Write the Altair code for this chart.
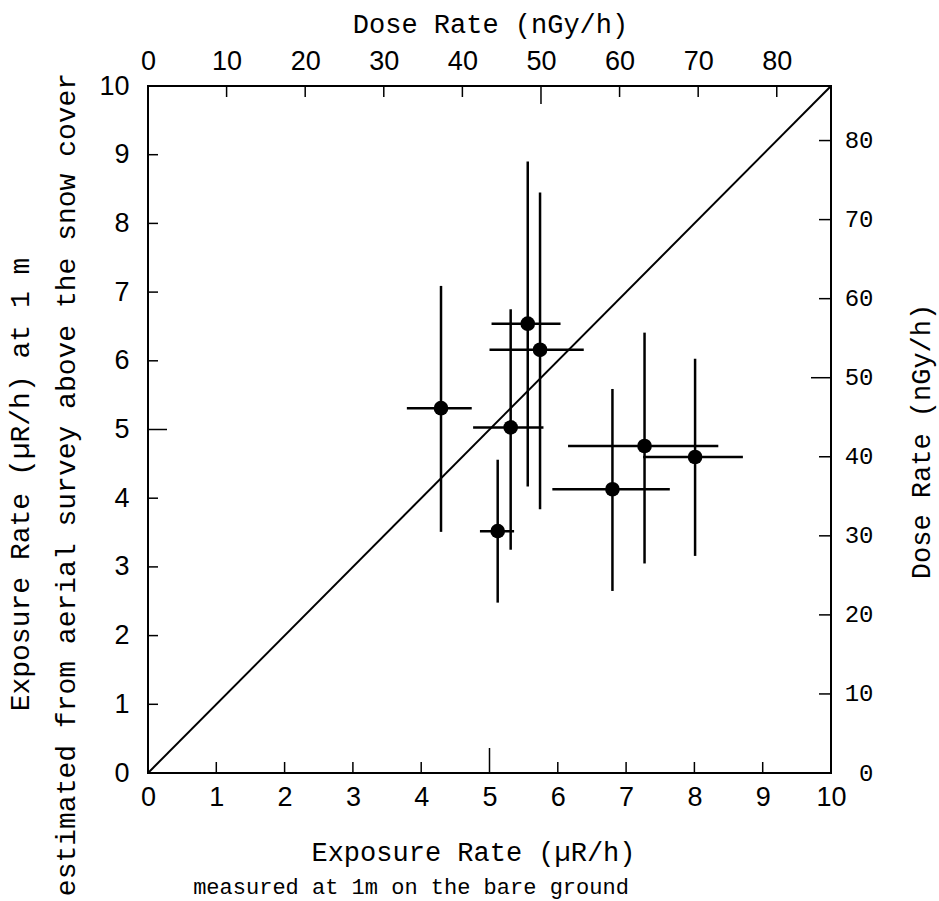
import altair as alt
import pandas as pd

# ---- data ----
# exposure rate measured at 1 m on bare ground (uR/h): centre and horizontal error bar
meas_x = [4.29, 5.56, 5.74, 5.31, 5.12, 6.80, 7.27, 8.01]
meas_lo = [3.79, 5.03, 5.00, 4.76, 4.86, 5.92, 6.15, 7.25]
meas_hi = [4.74, 6.04, 6.38, 5.79, 5.36, 7.64, 8.35, 8.71]
# exposure rate estimated from aerial survey (uR/h): centre and vertical error bar
aer_y = [5.31, 6.54, 6.16, 5.03, 3.52, 4.13, 4.76, 4.60]
aer_lo = [3.51, 4.17, 3.84, 3.25, 2.48, 2.65, 3.05, 3.16]
aer_hi = [7.09, 8.90, 8.45, 6.75, 4.56, 5.59, 6.41, 6.03]

# 1:1 line
line_x = [0, 10]
line_y = [0, 10]

# axis ticks
exp_ticks = list(range(0, 11))
dose_ticks = list(range(0, 81, 10))
exp_max = 10
dose_max = 86.9

W, H = 683, 687
TITLE_FONT = "Liberation Mono"
LABEL_FONT = "'Liberation Sans Narrow', 'Liberation Sans', sans-serif"

df = pd.DataFrame({"x": meas_x, "xlo": meas_lo, "xhi": meas_hi,
                   "y": aer_y, "ylo": aer_lo, "yhi": aer_hi})
df_line = pd.DataFrame({"x": line_x, "y": line_y})

xs = alt.Scale(domain=[0, exp_max], nice=False, zero=False)
ys = alt.Scale(domain=[0, exp_max], nice=False, zero=False)
ds = alt.Scale(domain=[0, dose_max], nice=False, zero=False)

x_axis = alt.Axis(values=exp_ticks, ticks=False, domain=False, grid=False,
                  labelFont=LABEL_FONT, labelFontSize=27, labelPadding=11,
                  labelColor="black", labelFlush=False, format="d",
                  title="Exposure Rate (µR/h)", titleFont=TITLE_FONT,
                  titleFontSize=27, titleFontWeight="normal", titleColor="black",
                  titleX=325, titleY=79, titleBaseline="middle")
y_axis = alt.Axis(values=exp_ticks, ticks=False, domain=False, grid=False,
                  labelFont=LABEL_FONT, labelFontSize=27, labelPadding=19,
                  labelColor="black", labelFlush=False, format="d",
                  title=["Exposure Rate (µR/h) at 1 m",
                         "estimated from aerial survey above the snow cover"],
                  titleFont=TITLE_FONT, titleFontSize=28, titleFontWeight="normal",
                  titleColor="black", titleAngle=270, titleAlign="center",
                  titleBaseline="middle", titleLineHeight=46,
                  titleX=-128, titleY=398)
top_axis = alt.Axis(orient="top", values=dose_ticks, ticks=False, domain=False,
                    grid=False, labelFont=LABEL_FONT, labelFontSize=27,
                    labelPadding=11, labelColor="black", labelFlush=False, format="d",
                    title="Dose Rate (nGy/h)", titleFont=TITLE_FONT, titleFontSize=27,
                    titleFontWeight="normal", titleColor="black",
                    titleX=342, titleY=-62, titleBaseline="middle")
right_axis = alt.Axis(orient="right", values=dose_ticks, ticks=False, domain=False,
                      grid=False, labelFont=TITLE_FONT, labelFontSize=24,
                      labelAlign="right", labelPadding=42, labelColor="black",
                      labelFlush=False, format="d",
                      title="Dose Rate (nGy/h)", titleFont=TITLE_FONT, titleFontSize=27,
                      titleFontWeight="normal", titleColor="black", titleAngle=270,
                      titleAlign="center", titleBaseline="middle",
                      titleX=90, titleY=355)

base = alt.Chart(df)

diag = alt.Chart(df_line).mark_line(color="black", strokeWidth=2).encode(
    x=alt.X("x:Q", scale=xs, axis=x_axis),
    y=alt.Y("y:Q", scale=ys, axis=y_axis),
)
hbars = base.mark_rule(color="black", strokeWidth=2.5).encode(
    x=alt.X("xlo:Q", scale=xs, axis=x_axis), x2="xhi:Q",
    y=alt.Y("y:Q", scale=ys, axis=y_axis),
)
vbars = base.mark_rule(color="black", strokeWidth=2.5).encode(
    x=alt.X("x:Q", scale=xs, axis=x_axis),
    y=alt.Y("ylo:Q", scale=ys, axis=y_axis), y2="yhi:Q",
)
points = base.mark_circle(color="black", opacity=1, size=215).encode(
    x=alt.X("x:Q", scale=xs, axis=x_axis),
    y=alt.Y("y:Q", scale=ys, axis=y_axis),
)

inner_ticks = [t for t in exp_ticks if 0 < t < exp_max]
short_exp = pd.DataFrame({"v": [t for t in inner_ticks if t != 5]})
long_exp = pd.DataFrame({"v": [t for t in inner_ticks if t == 5]})

bot_short = alt.Chart(short_exp).mark_rule(color="black", strokeWidth=1.5).encode(
    x=alt.X("v:Q", scale=xs, axis=x_axis), y=alt.value(H), y2=alt.value(H - 11))
bot_long = alt.Chart(long_exp).mark_rule(color="black", strokeWidth=1.5).encode(
    x=alt.X("v:Q", scale=xs, axis=x_axis), y=alt.value(H), y2=alt.value(H - 25))
left_short = alt.Chart(short_exp).mark_rule(color="black", strokeWidth=1.5).encode(
    y=alt.Y("v:Q", scale=ys, axis=y_axis), x=alt.value(0), x2=alt.value(10))
left_long = alt.Chart(long_exp).mark_rule(color="black", strokeWidth=1.5).encode(
    y=alt.Y("v:Q", scale=ys, axis=y_axis), x=alt.value(0), x2=alt.value(19))

subtitle = alt.Chart(pd.DataFrame({"a": [0]})).mark_text(
    font=TITLE_FONT, fontSize=22, align="center", baseline="middle", color="black"
).encode(x=alt.value(263), y=alt.value(801),
         text=alt.value("measured at 1m on the bare ground"))

main = alt.layer(diag, hbars, vbars, points, bot_short, bot_long,
                 left_short, left_long, subtitle)

inner_dose = [t for t in dose_ticks if 0 < t]
short_dose = pd.DataFrame({"d": [t for t in inner_dose if t != 50]})
long_dose = pd.DataFrame({"d": [t for t in inner_dose if t == 50]})

top_short = alt.Chart(short_dose).mark_rule(color="black", strokeWidth=1.5).encode(
    x=alt.X("d:Q", scale=ds, axis=top_axis), y=alt.value(0), y2=alt.value(11))
top_long = alt.Chart(long_dose).mark_rule(color="black", strokeWidth=1.5).encode(
    x=alt.X("d:Q", scale=ds, axis=None), y=alt.value(0), y2=alt.value(18))
right_short = alt.Chart(short_dose).mark_rule(color="black", strokeWidth=1.5).encode(
    y=alt.Y("d:Q", scale=ds, axis=right_axis), x=alt.value(W), x2=alt.value(W - 12))
right_long = alt.Chart(long_dose).mark_rule(color="black", strokeWidth=1.5).encode(
    y=alt.Y("d:Q", scale=ds, axis=None), x=alt.value(W), x2=alt.value(W - 20))

chart = alt.layer(main, top_short, top_long, right_short, right_long).resolve_scale(
    x="independent", y="independent"
).properties(
    width=W, height=H,
    padding={"left": 148, "top": 86, "right": 108, "bottom": 128},
    autosize=alt.AutoSizeParams(type="none"),
    background="white",
).configure_view(stroke="black", strokeWidth=2)

chart.save("out.html", embed_options={"renderer": "svg", "actions": False})
